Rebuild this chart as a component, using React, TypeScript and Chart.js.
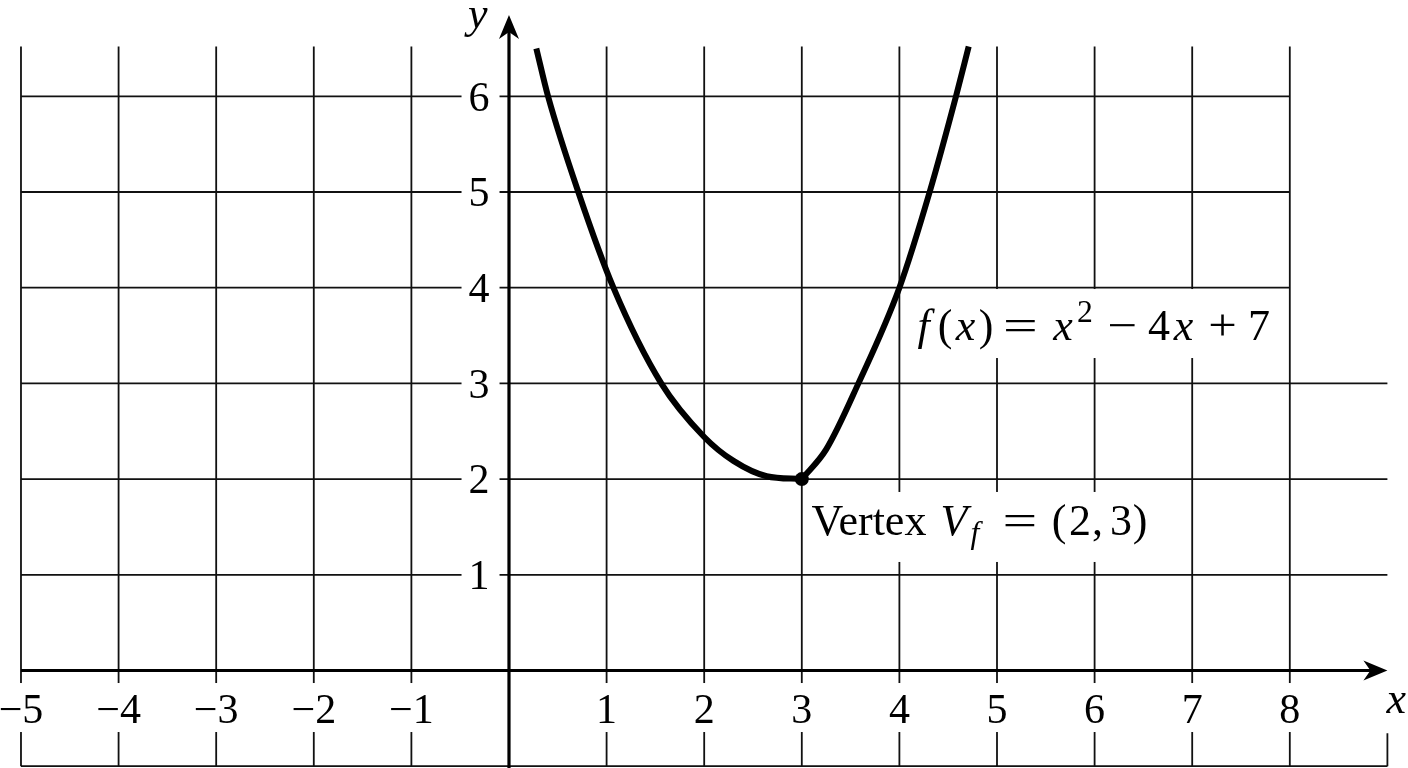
import { useEffect, useRef } from "react";
import { Chart, registerables } from "chart.js";

Chart.register(...registerables);

// curve, split at the vertex (left side flattens, right side starts steep)
const leftX = [0.28, 0.4, 0.71, 1.07, 1.56, 2.0, 2.3, 2.64, 3.0];
const leftY = [6.5, 6.0, 5.0, 4.0, 3.0, 2.44, 2.19, 2.03, 2.0];
const rightX = [3.0, 3.25, 3.58, 4.0, 4.31, 4.58, 4.71];
const rightY = [2.0, 2.31, 3.0, 4.0, 5.0, 6.0, 6.52];
const vertexX = [3];
const vertexY = [2];

const xTicks = [-5, -4, -3, -2, -1, 1, 2, 3, 4, 5, 6, 7, 8];
const xTickLabels = ["−5", "−4", "−3", "−2", "−1", "1", "2", "3", "4", "5", "6", "7", "8"];
const yTicks = [1, 2, 3, 4, 5, 6];
const yTickLabels = ["1", "2", "3", "4", "5", "6"];

const gridCols = [-5, -4, -3, -2, -1, 0, 1, 2, 3, 4, 5, 6, 7, 8];
const gridRowsLong = [-1, 1, 2, 3];
const gridRowsShort = [4, 5, 6];

const X_MIN = -5.215;
const X_MAX = 9.211;
const Y_MIN = -1.019;
const Y_MAX = 7.006;

const FONT = '"Liberation Serif", "Times New Roman", serif';

type Piece = { t: string; c: number; it?: boolean; s?: number; dy?: number; sx?: number };

const fLabel: Piece[] = [
  { t: "f", c: 11.5, it: true },
  { t: "(", c: 33 },
  { t: "x", c: 53.5, it: true },
  { t: ")", c: 74 },
  { t: "=", c: 108.5, sx: 1.4 },
  { t: "x", c: 151, it: true },
  { t: "2", c: 173, s: 0.72, dy: -18 },
  { t: "−", c: 210.5, sx: 1.2 },
  { t: "4", c: 247 },
  { t: "x", c: 271.5, it: true },
  { t: "+", c: 310.5, sx: 1.15 },
  { t: "7", c: 347 },
];

const vLabel: Piece[] = [
  { t: "Vertex", c: 58 },
  { t: "V", c: 143, it: true },
  { t: "f", c: 164, it: true, s: 0.72, dy: 8 },
  { t: "=", c: 209, sx: 1.4 },
  { t: "(", c: 248 },
  { t: "2", c: 269 },
  { t: ",", c: 286.5 },
  { t: "3", c: 310 },
  { t: ")", c: 329 },
];

function drawPieces(ctx: CanvasRenderingContext2D, pieces: Piece[], x0: number, base: number, fs: number) {
  ctx.textAlign = "center";
  ctx.textBaseline = "alphabetic";
  ctx.fillStyle = "#000";
  for (const p of pieces) {
    const size = fs * (p.s ?? 1);
    ctx.font = `${p.it ? "italic " : ""}${size}px ${FONT}`;
    ctx.save();
    ctx.translate(x0 + p.c, base + (p.dy ?? 0));
    ctx.scale(p.sx ?? 1, 1);
    ctx.fillText(p.t, 0, 0);
    ctx.restore();
  }
}

function arrow(ctx: CanvasRenderingContext2D, tx: number, ty: number, dx: number, dy: number) {
  const L = 24;
  const W = 10;
  const notch = 7;
  const nx = -dy;
  const ny = dx;
  ctx.beginPath();
  ctx.moveTo(tx, ty);
  ctx.lineTo(tx - dx * L + nx * W, ty - dy * L + ny * W);
  ctx.lineTo(tx - dx * (L - notch), ty - dy * (L - notch));
  ctx.lineTo(tx - dx * L - nx * W, ty - dy * L - ny * W);
  ctx.closePath();
  ctx.fill();
}

const paperPlugin = {
  id: "paper",
  beforeDatasetsDraw(chart: Chart) {
    const ctx = chart.ctx;
    const xs = chart.scales.x;
    const ys = chart.scales.y;
    const px = (v: number) => xs.getPixelForValue(v);
    const py = (v: number) => ys.getPixelForValue(v);

    ctx.save();
    ctx.fillStyle = "#fff";
    ctx.fillRect(0, 0, chart.width, chart.height);

    // grid
    ctx.strokeStyle = "#111";
    ctx.lineWidth = 1.8;
    ctx.beginPath();
    for (const c of gridCols) {
      ctx.moveTo(px(c), py(6.52));
      ctx.lineTo(px(c), py(-1));
    }
    ctx.moveTo(px(9), py(-0.655));
    ctx.lineTo(px(9), py(-1));
    for (const r of gridRowsLong) {
      ctx.moveTo(px(-5), py(r));
      ctx.lineTo(px(9), py(r));
    }
    for (const r of gridRowsShort) {
      ctx.moveTo(px(-5), py(r));
      ctx.lineTo(px(8), py(r));
    }
    ctx.stroke();

    // tick labels on white boxes
    const tfs = 42;
    ctx.font = `${tfs}px ${FONT}`;
    ctx.textAlign = "center";
    ctx.textBaseline = "alphabetic";
    const xBase = py(-0.549);
    xTicks.forEach((v, i) => {
      const w = ctx.measureText(xTickLabels[i]).width;
      ctx.fillStyle = "#fff";
      ctx.fillRect(px(v) - w / 2 - 6, xBase - 40, w + 12, 49);
      ctx.fillStyle = "#000";
      ctx.fillText(xTickLabels[i], px(v), xBase);
    });
    const yLabX = px(-0.307);
    yTicks.forEach((v, i) => {
      const w = ctx.measureText(yTickLabels[i]).width;
      const base = py(v) + 0.34 * tfs;
      ctx.fillStyle = "#fff";
      ctx.fillRect(yLabX - w / 2 - 7, base - 32, w + 17, 40);
      ctx.fillStyle = "#000";
      ctx.fillText(yTickLabels[i], yLabX, base);
    });

    // annotations
    const afs = 44;
    const fx = px(4.129);
    const fb = py(3.453);
    ctx.fillStyle = "#fff";
    ctx.fillRect(fx - 9, fb - 51, 383, 69);
    drawPieces(ctx, fLabel, fx, fb, afs);

    const vx = px(3.094);
    const vb = py(1.416);
    ctx.fillStyle = "#fff";
    ctx.fillRect(vx - 6, vb - 43, 355, 70);
    drawPieces(ctx, vLabel, vx, vb, afs);

    // axes
    ctx.strokeStyle = "#000";
    ctx.fillStyle = "#000";
    ctx.lineWidth = 3.2;
    ctx.beginPath();
    ctx.moveTo(px(-5), py(0));
    ctx.lineTo(px(9) - 10, py(0));
    ctx.moveTo(px(0), py(-1.1));
    ctx.lineTo(px(0), py(6.85) + 10);
    ctx.stroke();
    arrow(ctx, px(9), py(0), 1, 0);
    arrow(ctx, px(0), py(6.85), 0, -1);

    ctx.font = `italic ${afs}px ${FONT}`;
    ctx.textAlign = "center";
    ctx.fillText("y", px(-0.32), py(6.71));
    ctx.fillText("x", px(9.09), py(-0.44));

    ctx.restore();
  },
};

export default function App() {
  const canvasRef = useRef<HTMLCanvasElement | null>(null);
  const chartRef = useRef<Chart | null>(null);

  useEffect(() => {
    const canvas = canvasRef.current;
    if (!canvas) return;
    if (chartRef.current) chartRef.current.destroy();

    const curveStyle = {
      showLine: true,
      borderColor: "#000",
      borderWidth: 6,
      pointRadius: 0,
      cubicInterpolationMode: "monotone" as const,
      borderCapStyle: "butt" as const,
      borderJoinStyle: "round" as const,
    };

    chartRef.current = new Chart(canvas, {
      type: "scatter",
      data: {
        datasets: [
          {
            label: "Vertex",
            data: vertexX.map((x, i) => ({ x, y: vertexY[i] })),
            pointRadius: 7,
            pointBackgroundColor: "#000",
            pointBorderWidth: 0,
            showLine: false,
          },
          {
            label: "f left",
            data: leftX.map((x, i) => ({ x, y: leftY[i] })),
            ...curveStyle,
          },
          {
            label: "f right",
            data: rightX.map((x, i) => ({ x, y: rightY[i] })),
            ...curveStyle,
          },
        ],
      },
      options: {
        animation: false,
        responsive: true,
        maintainAspectRatio: false,
        events: [],
        layout: { padding: 0, autoPadding: false },
        plugins: { legend: { display: false }, tooltip: { enabled: false } },
        scales: {
          x: { type: "linear", min: X_MIN, max: X_MAX, display: false },
          y: { type: "linear", min: Y_MIN, max: Y_MAX, display: false },
        },
      },
      plugins: [paperPlugin],
    });

    return () => {
      chartRef.current?.destroy();
      chartRef.current = null;
    };
  }, []);

  return (
    <div style={{ position: "fixed", left: 0, top: 0, width: 1408, height: 768, background: "#fff" }}>
      <canvas ref={canvasRef}></canvas>
    </div>
  );
}
